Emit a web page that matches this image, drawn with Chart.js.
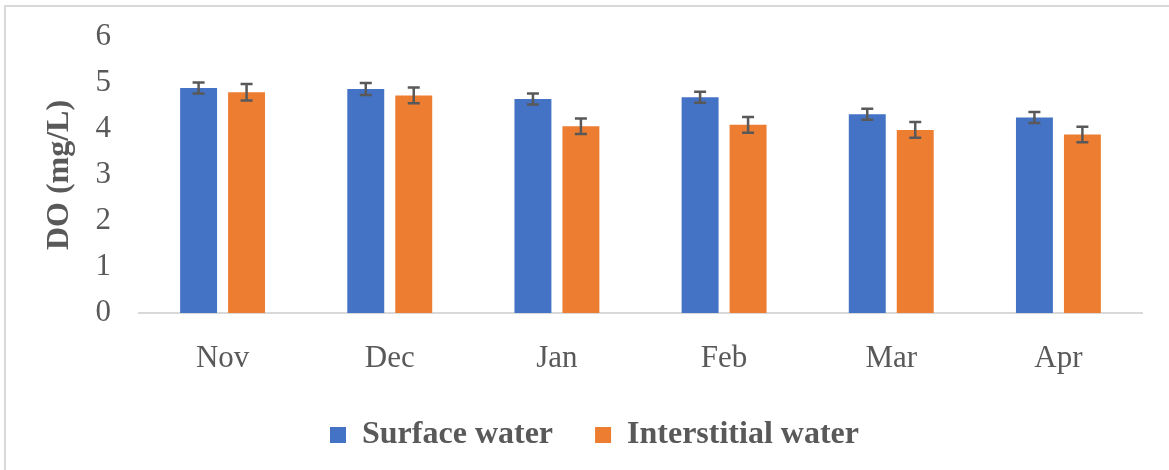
<!DOCTYPE html>
<html>
<head>
<meta charset="utf-8">
<script src="https://cdn.jsdelivr.net/npm/chart.js@4.4.1/dist/chart.umd.min.js"></script>
<style>
  html, body { margin: 0; padding: 0; background: #fff; }
  #wrap { position: relative; width: 1169px; height: 470px; }
  #frame { position: absolute; left: 4px; top: 5px; right: -10px; bottom: -10px;
           border-left: 2px solid #d9d9d9; border-top: 2px solid #d9d9d9; pointer-events: none; }
  canvas { position: absolute; left: 0; top: 0; }
</style>
</head>
<body>
<div id="wrap">
  <div id="frame"></div>
  <canvas id="c" width="1169" height="470"></canvas>
</div>
<script>
const categories = ["Nov", "Dec", "Jan", "Feb", "Mar", "Apr"];
const surfaceWater = [4.89, 4.87, 4.65, 4.69, 4.32, 4.25];
const surfaceErr = [0.12, 0.13, 0.12, 0.12, 0.12, 0.12];
const interstitialWater = [4.80, 4.73, 4.06, 4.09, 3.98, 3.88];
const interstitialErr = [0.18, 0.17, 0.17, 0.17, 0.17, 0.17];
const yTicks = [0, 1, 2, 3, 4, 5, 6];

const errors = [surfaceErr, interstitialErr];

const errorBars = {
  id: 'errorBars',
  afterDatasetsDraw(chart) {
    const ctx = chart.ctx;
    const y = chart.scales.y;
    ctx.save();
    ctx.strokeStyle = '#595959';
    ctx.lineWidth = 2.5;
    chart.data.datasets.forEach((ds, di) => {
      const meta = chart.getDatasetMeta(di);
      meta.data.forEach((bar, i) => {
        const v = ds.data[i], e = errors[di][i];
        const yt = y.getPixelForValue(v + e);
        const yb = y.getPixelForValue(v - e);
        const x = bar.x, cw = 6;
        ctx.beginPath();
        ctx.moveTo(x, yt); ctx.lineTo(x, yb);
        ctx.moveTo(x - cw, yt); ctx.lineTo(x + cw, yt);
        ctx.moveTo(x - cw, yb); ctx.lineTo(x + cw, yb);
        ctx.stroke();
      });
    });
    ctx.restore();
  }
};

new Chart(document.getElementById('c'), {
  type: 'bar',
  data: {
    labels: categories,
    datasets: [
      { label: 'Surface water', data: surfaceWater, backgroundColor: '#4472C4',
        categoryPercentage: 0.574, barPercentage: 0.77 },
      { label: 'Interstitial water', data: interstitialWater, backgroundColor: '#ED7D31',
        categoryPercentage: 0.574, barPercentage: 0.77 }
    ]
  },
  options: {
    responsive: false,
    animation: false,
    devicePixelRatio: 1,
    layout: { padding: { left: 47, right: 27, top: 37, bottom: 9 } },
    plugins: {
      legend: {
        position: 'bottom',
        labels: {
          boxWidth: 16, boxHeight: 16, padding: 42,
          color: '#595959',
          font: { family: 'Liberation Serif', size: 32, weight: 'bold' }
        }
      },
      tooltip: { enabled: false }
    },
    scales: {
      x: {
        grid: { display: false, drawTicks: false },
        border: { display: true, color: '#d9d9d9', width: 2 },
        ticks: { color: '#595959', padding: 27,
                 font: { family: 'Liberation Serif', size: 31 } },
        afterFit(s) { s.height = 64; s.paddingLeft = 0; s.paddingRight = 0; }
      },
      y: {
        min: 0, max: 6,
        afterBuildTicks(s) { s.ticks = yTicks.map(v => ({ value: v })); },
        grid: { display: false, drawTicks: false },
        border: { display: false },
        ticks: { color: '#595959', padding: 28,
                 font: { family: 'Liberation Serif', size: 31 } },
        title: {
          display: true, text: 'DO (mg/L)', color: '#595959',
          padding: { top: 0, bottom: 0 },
          font: { family: 'Liberation Serif', size: 32, weight: 'bold', lineHeight: 0.8 }
        },
        afterFit(s) { s.width = 92; s.paddingTop = 0; s.paddingBottom = 0; }
      }
    }
  },
  plugins: [errorBars]
});
</script>
</body>
</html>
